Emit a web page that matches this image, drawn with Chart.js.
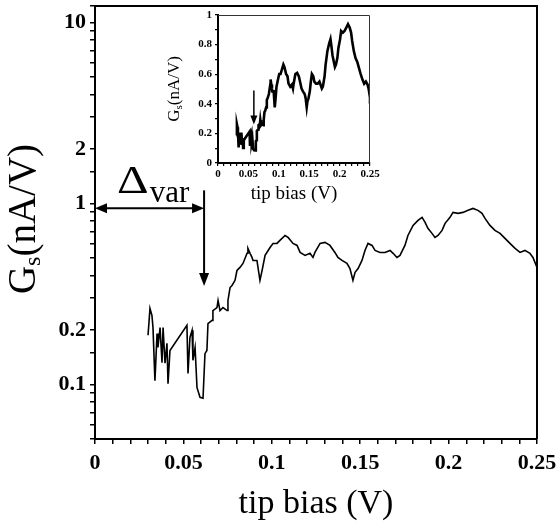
<!DOCTYPE html>
<html>
<head>
<meta charset="utf-8">
<script src="https://cdn.jsdelivr.net/npm/chart.js@4"></script>
<style>
  html, body { margin: 0; padding: 0; background: #fff; }
  #wrap { position: relative; width: 558px; height: 525px; }
  #mainChart { position: absolute; left: 0; top: 0; }
  #insetChart { position: absolute; left: 160px; top: 8px; }
</style>
</head>
<body>
<div id="wrap">
  <canvas id="mainChart" width="558" height="525"></canvas>
  <canvas id="insetChart" width="220" height="200"></canvas>
</div>
<script>
// tip bias (V)
const biasV = [
  0.0300, 0.0311, 0.0322, 0.0328, 0.0339, 0.0351, 0.0356, 0.0368, 0.0379, 0.0385,
  0.0396, 0.0407, 0.0413, 0.0424, 0.0520, 0.0526, 0.0537, 0.0549, 0.0554, 0.0566,
  0.0577, 0.0594, 0.0611, 0.0622, 0.0633, 0.0639, 0.0662, 0.0667, 0.0690, 0.0696,
  0.0707, 0.0724, 0.0747, 0.0752, 0.0764, 0.0775, 0.0792, 0.0803, 0.0820, 0.0837,
  0.0860, 0.0865, 0.0877, 0.0888, 0.0894, 0.0916, 0.0933, 0.0945, 0.0962, 0.0990,
  0.1007, 0.1029, 0.1046, 0.1075, 0.1092, 0.1120, 0.1143, 0.1160, 0.1188, 0.1216,
  0.1233, 0.1244, 0.1273, 0.1301, 0.1329, 0.1357, 0.1374, 0.1397, 0.1425, 0.1442,
  0.1459, 0.1471, 0.1488, 0.1510, 0.1527, 0.1544, 0.1567, 0.1584, 0.1612, 0.1640,
  0.1669, 0.1686, 0.1708, 0.1725, 0.1753, 0.1770, 0.1799, 0.1827, 0.1850, 0.1867,
  0.1883, 0.1906, 0.1923, 0.1940, 0.1963, 0.1980, 0.2008, 0.2025, 0.2053, 0.2081,
  0.2110, 0.2138, 0.2166, 0.2189, 0.2206, 0.2234, 0.2262, 0.2291, 0.2319, 0.2347,
  0.2376, 0.2404, 0.2432, 0.2460, 0.2477, 0.2500, 0.2500
];
// Gs (nA/V)
const condG = [
  0.187, 0.263, 0.241, 0.206, 0.105, 0.191, 0.160, 0.206, 0.132, 0.206,
  0.131, 0.169, 0.101, 0.154, 0.212, 0.115, 0.182, 0.199, 0.136, 0.160,
  0.096, 0.085, 0.084, 0.148, 0.154, 0.217, 0.226, 0.256, 0.266, 0.291,
  0.256, 0.266, 0.256, 0.291, 0.343, 0.352, 0.376, 0.426, 0.443, 0.466,
  0.530, 0.564, 0.530, 0.503, 0.484, 0.484, 0.376, 0.426, 0.516, 0.571,
  0.601, 0.601, 0.625, 0.665, 0.649, 0.601, 0.586, 0.536, 0.516, 0.530,
  0.503, 0.536, 0.601, 0.609, 0.586, 0.536, 0.503, 0.484, 0.466, 0.437,
  0.376, 0.416, 0.437, 0.484, 0.550, 0.601, 0.586, 0.550, 0.536, 0.536,
  0.550, 0.530, 0.503, 0.516, 0.586, 0.665, 0.756, 0.806, 0.837, 0.785,
  0.728, 0.683, 0.649, 0.665, 0.709, 0.776, 0.837, 0.892, 0.881, 0.892,
  0.915, 0.938, 0.915, 0.881, 0.826, 0.756, 0.709, 0.683, 0.641, 0.601,
  0.564, 0.536, 0.550, 0.530, 0.503, 0.443, 0.400
];

const xTickLabels = ['0', '0.05', '0.1', '0.15', '0.2', '0.25'];
const yTickLabels = ['0.1', '0.2', '1', '2', '10'];
const insetYLabels = ['0', '0.2', '0.4', '0.6', '0.8', '1'];

// annotation positions (data units)
const deltaEnd = 0.0617;
const deltaLevel = 0.94;
const markTop = 1.18;
const markTip = 0.35;
const insetMarkX = 0.059;
const insetMarkTop = 0.49;
const insetMarkTip = 0.26;

const serif = '"Liberation Serif", "Times New Roman", serif';
const points = biasV.map((x, i) => ({ x: x, y: condG[i] }));

function xLabel(v) {
  const i = Math.round(v / 0.05);
  return Math.abs(v - i * 0.05) < 1e-6 ? xTickLabels[i] : '';
}

function arrowHead(ctx, x, y, dir, len, half) {
  // dir: 'left' | 'right' | 'down'
  ctx.beginPath();
  ctx.moveTo(x, y);
  if (dir === 'left') { ctx.lineTo(x + len, y - half); ctx.lineTo(x + len, y + half); }
  if (dir === 'right') { ctx.lineTo(x - len, y - half); ctx.lineTo(x - len, y + half); }
  if (dir === 'down') { ctx.lineTo(x - half, y - len); ctx.lineTo(x + half, y - len); }
  ctx.closePath();
  ctx.fill();
}

function drawGsTitle(ctx, cx, cy, big, small, shift) {
  ctx.save();
  ctx.translate(cx, cy);
  ctx.rotate(-Math.PI / 2);
  ctx.fillStyle = '#000';
  ctx.textBaseline = 'middle';
  ctx.textAlign = 'left';
  ctx.font = big + 'px ' + serif;
  const wG = ctx.measureText('G').width;
  const wRest = ctx.measureText('(nA/V)').width;
  ctx.font = small + 'px ' + serif;
  const wS = ctx.measureText('s').width;
  let x = -(wG + wS + wRest) / 2;
  ctx.font = big + 'px ' + serif;
  ctx.fillText('G', x, 0);
  x += wG;
  ctx.font = small + 'px ' + serif;
  ctx.fillText('s', x, shift);
  x += wS;
  ctx.font = big + 'px ' + serif;
  ctx.fillText('(nA/V)', x, 0);
  ctx.restore();
}

const mainDecor = {
  id: 'mainDecor',
  afterDraw(chart) {
    const ctx = chart.ctx;
    const a = chart.chartArea;
    const xs = chart.scales.x, ys = chart.scales.y;
    ctx.save();
    ctx.strokeStyle = '#000';
    ctx.fillStyle = '#000';
    // frame top and right
    ctx.lineWidth = 2;
    ctx.beginPath();
    ctx.moveTo(a.left, a.top);
    ctx.lineTo(a.right, a.top);
    ctx.lineTo(a.right, a.bottom);
    ctx.stroke();

    // axis titles
    ctx.font = '34px ' + serif;
    ctx.textAlign = 'center';
    ctx.textBaseline = 'alphabetic';
    ctx.fillText('tip bias (V)', (a.left + a.right) / 2, 513);
    drawGsTitle(ctx, 25, 219, 39, 24, 9);

    // delta_var double arrow
    const yA = ys.getPixelForValue(deltaLevel);
    const x0 = xs.getPixelForValue(0);
    const x1 = xs.getPixelForValue(deltaEnd);
    ctx.lineWidth = 2;
    ctx.beginPath();
    ctx.moveTo(x0 + 6, yA);
    ctx.lineTo(x1 - 6, yA);
    ctx.stroke();
    arrowHead(ctx, x0, yA, 'left', 12, 5);
    arrowHead(ctx, x1, yA, 'right', 12, 5);

    // vertical marker arrow
    const yTop = ys.getPixelForValue(markTop);
    const yTip = ys.getPixelForValue(markTip);
    ctx.beginPath();
    ctx.moveTo(x1, yTop);
    ctx.lineTo(x1, yTip - 8);
    ctx.stroke();
    arrowHead(ctx, x1, yTip, 'down', 13, 5);

    // label
    ctx.textAlign = 'left';
    ctx.font = '41px ' + serif;
    ctx.save();
    ctx.translate(x0 + 22, yA - 15);
    ctx.scale(1.2, 1);
    ctx.fillText('\u0394', 0, 0);
    ctx.restore();
    const wD = ctx.measureText('\u0394').width * 1.2;
    ctx.font = '31px ' + serif;
    ctx.fillText('var', x0 + 22 + wD + 1, yA - 6);
    ctx.restore();
  }
};

const insetDecor = {
  id: 'insetDecor',
  afterDraw(chart) {
    const ctx = chart.ctx;
    const a = chart.chartArea;
    const xs = chart.scales.x, ys = chart.scales.y;
    ctx.save();
    ctx.strokeStyle = '#333';
    ctx.fillStyle = '#000';
    ctx.lineWidth = 1;
    ctx.beginPath();
    ctx.moveTo(a.left, a.top + 0.5);
    ctx.lineTo(a.right - 0.5, a.top + 0.5);
    ctx.lineTo(a.right - 0.5, a.bottom);
    ctx.stroke();

    ctx.font = '19px ' + serif;
    ctx.textAlign = 'center';
    ctx.textBaseline = 'alphabetic';
    ctx.fillText('tip bias (V)', (a.left + a.right) / 2, 191);
    drawGsTitle(ctx, 15, (a.top + a.bottom) / 2, 17, 11, 4);

    const x = xs.getPixelForValue(insetMarkX);
    const yT = ys.getPixelForValue(insetMarkTop);
    const yB = ys.getPixelForValue(insetMarkTip);
    ctx.strokeStyle = '#000';
    ctx.lineWidth = 1.5;
    ctx.beginPath();
    ctx.moveTo(x, yT);
    ctx.lineTo(x, yB - 5);
    ctx.stroke();
    arrowHead(ctx, x, yB, 'down', 9, 3.5);
    ctx.restore();
  }
};

new Chart(document.getElementById('mainChart').getContext('2d'), {
  type: 'line',
  data: {
    datasets: [{
      data: points,
      borderColor: '#000',
      borderWidth: 1.6,
      pointRadius: 0,
      tension: 0,
      fill: false
    }]
  },
  options: {
    responsive: false,
    animation: false,
    devicePixelRatio: 1,
    layout: { padding: { top: 6, right: 21, left: 0, bottom: 0 } },
    plugins: { legend: { display: false }, tooltip: { enabled: false } },
    scales: {
      x: {
        type: 'linear',
        min: 0,
        max: 0.25,
        afterFit(s) { s.height = 86; s.paddingLeft = 0; s.paddingRight = 0; },
        grid: { drawOnChartArea: false, drawTicks: true, tickLength: 5, color: '#000', lineWidth: 1.5 },
        border: { color: '#000', width: 2 },
        ticks: {
          stepSize: 0.01,
          autoSkip: false,
          maxRotation: 0,
          padding: 6,
          color: '#000',
          font: { family: serif, size: 22, weight: 'bold' },
          callback: xLabel
        }
      },
      y: {
        type: 'logarithmic',
        min: 0.05,
        max: 12.3,
        afterFit(s) { s.width = 95; s.paddingTop = 0; s.paddingBottom = 0; },
        grid: { drawOnChartArea: false, drawTicks: true, tickLength: 5, color: '#000', lineWidth: 1.5 },
        border: { color: '#000', width: 2 },
        ticks: {
          autoSkip: false,
          padding: 4,
          color: '#000',
          font: { family: serif, size: 22, weight: 'bold' },
          callback(v) {
            const i = yTickLabels.findIndex(t => Math.abs(Number(t) - v) / Number(t) < 1e-6);
            return i >= 0 ? yTickLabels[i] : '';
          }
        }
      }
    }
  },
  plugins: [mainDecor]
});

new Chart(document.getElementById('insetChart').getContext('2d'), {
  type: 'line',
  data: {
    datasets: [{
      data: points,
      borderColor: '#000',
      borderWidth: 2.6,
      pointRadius: 0,
      tension: 0,
      fill: false
    }]
  },
  options: {
    responsive: false,
    animation: false,
    devicePixelRatio: 1,
    layout: { padding: { top: 7, right: 10, left: 0, bottom: 0 } },
    plugins: { legend: { display: false }, tooltip: { enabled: false } },
    scales: {
      x: {
        type: 'linear',
        min: 0,
        max: 0.25,
        afterFit(s) { s.height = 45; s.paddingLeft = 0; s.paddingRight = 0; },
        grid: { drawOnChartArea: false, drawTicks: true, tickLength: 3, color: '#000', lineWidth: 1.2 },
        border: { color: '#000', width: 2 },
        ticks: {
          stepSize: 0.01,
          autoSkip: false,
          maxRotation: 0,
          padding: 2,
          color: '#000',
          font: { family: serif, size: 11, weight: 'bold' },
          callback: xLabel
        }
      },
      y: {
        type: 'linear',
        min: 0,
        max: 1,
        afterFit(s) { s.width = 58; s.paddingTop = 0; s.paddingBottom = 0; },
        grid: { drawOnChartArea: false, drawTicks: true, tickLength: 3, color: '#000', lineWidth: 1.2 },
        border: { color: '#000', width: 2 },
        ticks: {
          stepSize: 0.1,
          autoSkip: false,
          padding: 3,
          color: '#000',
          font: { family: serif, size: 11, weight: 'bold' },
          callback(v) {
            const i = Math.round(v / 0.2);
            return Math.abs(v - i * 0.2) < 1e-6 ? insetYLabels[i] : '';
          }
        }
      }
    }
  },
  plugins: [insetDecor]
});
</script>
</body>
</html>
